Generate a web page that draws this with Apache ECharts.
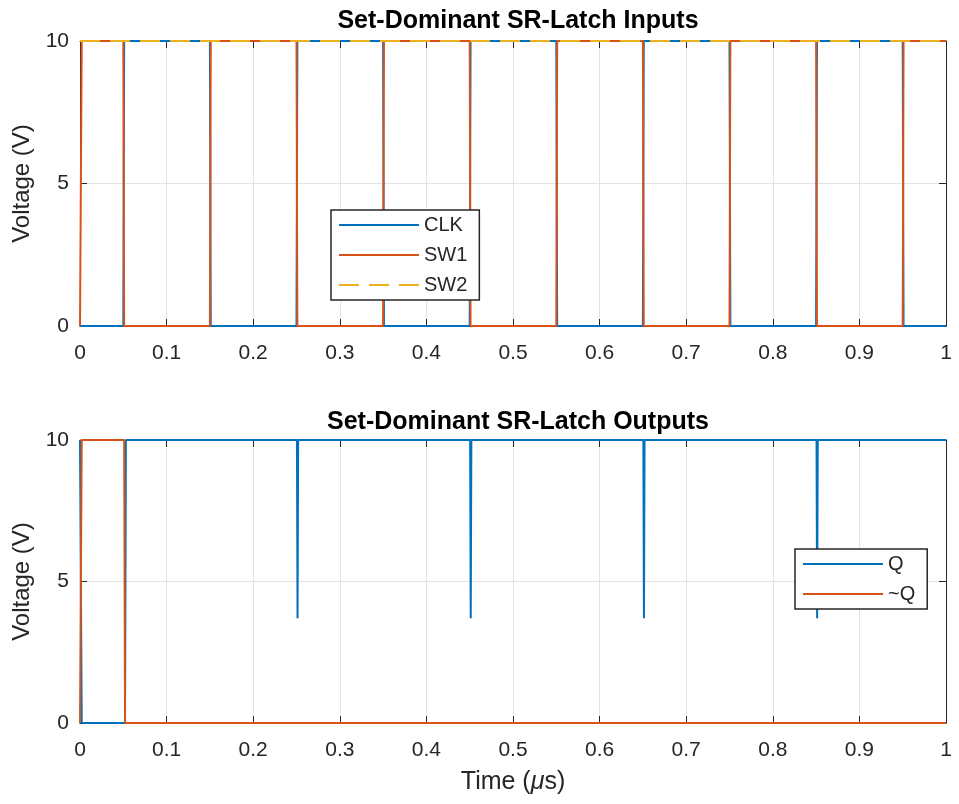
<!DOCTYPE html>
<html>
<head>
<meta charset="utf-8">
<script src="https://cdn.jsdelivr.net/npm/echarts@6/dist/echarts.min.js"></script>
<style>
html,body{margin:0;padding:0;background:#fff;}
#chart{width:959px;height:804px;}
</style>
</head>
<body>
<div id="chart"></div>
<script>
// ---- Data (time in µs, voltage in V) ----
const clkTime = [0, 0.05, 0.051, 0.15, 0.151, 0.25, 0.251, 0.35, 0.351, 0.45, 0.451, 0.55, 0.551, 0.65, 0.651, 0.75, 0.751, 0.85, 0.851, 0.95, 0.951, 1];
const clkVolt = [0, 0, 10, 10, 0, 0, 10, 10, 0, 0, 10, 10, 0, 0, 10, 10, 0, 0, 10, 10, 0, 0];

const sw1Time = [0, 0.002, 0.05, 0.051, 0.15, 0.151, 0.25, 0.251, 0.35, 0.351, 0.45, 0.451, 0.55, 0.551, 0.65, 0.651, 0.75, 0.751, 0.85, 0.851, 0.95, 0.951, 1];
const sw1Volt = [0, 10, 10, 0, 0, 10, 10, 0, 0, 10, 10, 0, 0, 10, 10, 0, 0, 10, 10, 0, 0, 10, 10];

const sw2Time = [0, 1];
const sw2Volt = [10, 10];

const qTime = [0, 0.002, 0.052, 0.053, 0.2505, 0.2512, 0.2519, 0.4505, 0.4512, 0.4519, 0.6505, 0.6512, 0.6519, 0.8505, 0.8512, 0.8519, 1];
const qVolt = [10, 0, 0, 10, 10, 3.7, 10, 10, 3.7, 10, 10, 3.7, 10, 10, 3.7, 10, 10];

const nqTime = [0, 0.002, 0.051, 0.052, 1];
const nqVolt = [0, 10, 10, 0, 0];

const xTicks = [0, 0.1, 0.2, 0.3, 0.4, 0.5, 0.6, 0.7, 0.8, 0.9, 1];
const yTicks = [0, 5, 10];

const titles = ['Set-Dominant SR-Latch Inputs', 'Set-Dominant SR-Latch Outputs'];

// ---- Styling ----
const FONT = '"Liberation Sans", Arial, Helvetica, sans-serif';
const TXT = '#262626';
const GRIDC = '#e3e3e3';
const BLUE = '#0072BD', ORANGE = '#D95319', YELLOW = '#EDB120';

const pairs = (t, v) => t.map((x, i) => [x, v[i]]);

const grids = [
  { left: 80, right: 13, top: 41, height: 285 },
  { left: 80, right: 13, top: 440, height: 283 }
];

function xAxisMain(gi, withName) {
  return {
    type: 'value', gridIndex: gi, min: xTicks[0], max: xTicks[xTicks.length - 1], interval: 0.1,
    position: 'bottom',
    axisLine: { show: true, onZero: false, lineStyle: { color: TXT, width: 1 } },
    axisTick: { show: true, inside: true, length: 7, lineStyle: { color: TXT } },
    axisLabel: { show: true, margin: 17, color: TXT, fontSize: 21, fontFamily: FONT,
      formatter: v => String(Math.round(v * 10) / 10) },
    splitLine: { show: true, lineStyle: { color: GRIDC, width: 1 } },
    name: withName ? 'Time ({i|μ}s)' : '',
    nameLocation: 'middle', nameGap: 47,
    nameTextStyle: { color: TXT, fontSize: 25, fontFamily: FONT,
      rich: { i: { fontStyle: 'italic', fontSize: 25, fontFamily: FONT, color: TXT } } }
  };
}
function xAxisTop(gi) {
  return {
    type: 'value', gridIndex: gi, min: 0, max: 1, interval: 0.1, position: 'top',
    axisLine: { show: true, onZero: false, lineStyle: { color: TXT, width: 1 } },
    axisTick: { show: true, inside: true, length: 7, lineStyle: { color: TXT } },
    axisLabel: { show: false }, splitLine: { show: false }
  };
}
function yAxisMain(gi) {
  return {
    type: 'value', gridIndex: gi, min: yTicks[0], max: yTicks[yTicks.length - 1], interval: 5,
    position: 'left',
    axisLine: { show: true, onZero: false, lineStyle: { color: TXT, width: 1 } },
    axisTick: { show: true, inside: true, length: 7, lineStyle: { color: TXT } },
    axisLabel: { show: true, margin: 11, color: TXT, fontSize: 21, fontFamily: FONT },
    splitLine: { show: true, lineStyle: { color: GRIDC, width: 1 } },
    name: 'Voltage (V)', nameLocation: 'middle', nameGap: 40, nameRotate: 90,
    nameTextStyle: { color: TXT, fontSize: 24, fontFamily: FONT }
  };
}
function yAxisRight(gi) {
  return {
    type: 'value', gridIndex: gi, min: 0, max: 10, interval: 5, position: 'right',
    axisLine: { show: true, onZero: false, lineStyle: { color: TXT, width: 1 } },
    axisTick: { show: true, inside: true, length: 7, lineStyle: { color: TXT } },
    axisLabel: { show: false }, splitLine: { show: false }
  };
}

function lineSeries(name, data, color, xi, yi, dashed) {
  return {
    name, type: 'line', data, xAxisIndex: xi, yAxisIndex: yi,
    symbol: 'none', showSymbol: false, clip: false, silent: true,
    lineStyle: { color, width: 2, type: dashed ? [20, 10] : 'solid' },
    itemStyle: { color }
  };
}

const legendCommon = {
  orient: 'vertical', itemWidth: 80, itemHeight: 14, itemGap: 10,
  backgroundColor: '#fff', borderColor: TXT, borderWidth: 1.5, borderRadius: 0,
  padding: [5, 12, 5, 7],
  itemStyle: { opacity: 0 },
  textStyle: { color: TXT, fontSize: 20, fontFamily: FONT },
  selectedMode: false
};

const option = {
  animation: false,
  backgroundColor: '#fff',
  title: [
    { text: titles[0], left: 513, top: 4, textAlign: 'center',
      textStyle: { color: '#000', fontSize: 25, fontWeight: 'bold', fontFamily: FONT } },
    { text: titles[1], left: 513, top: 405, textAlign: 'center',
      textStyle: { color: '#000', fontSize: 25, fontWeight: 'bold', fontFamily: FONT } }
  ],
  grid: grids,
  xAxis: [xAxisMain(0, false), xAxisTop(0), xAxisMain(1, true), xAxisTop(1)],
  yAxis: [yAxisMain(0), yAxisRight(0), yAxisMain(1), yAxisRight(1)],
  legend: [
    Object.assign({}, legendCommon, { data: ['CLK', 'SW1', 'SW2'], left: 331, top: 210 }),
    Object.assign({}, legendCommon, { data: ['Q', '~Q'], left: 795, top: 549 })
  ],
  series: [
    lineSeries('CLK', pairs(clkTime, clkVolt), BLUE, 0, 0, false),
    lineSeries('SW1', pairs(sw1Time, sw1Volt), ORANGE, 0, 0, false),
    lineSeries('SW2', pairs(sw2Time, sw2Volt), YELLOW, 0, 0, true),
    lineSeries('Q', pairs(qTime, qVolt), BLUE, 2, 2, false),
    lineSeries('~Q', pairs(nqTime, nqVolt), ORANGE, 2, 2, false)
  ]
};

const chart = echarts.init(document.getElementById('chart'), null, { renderer: 'canvas' });
chart.setOption(option);
</script>
</body>
</html>
